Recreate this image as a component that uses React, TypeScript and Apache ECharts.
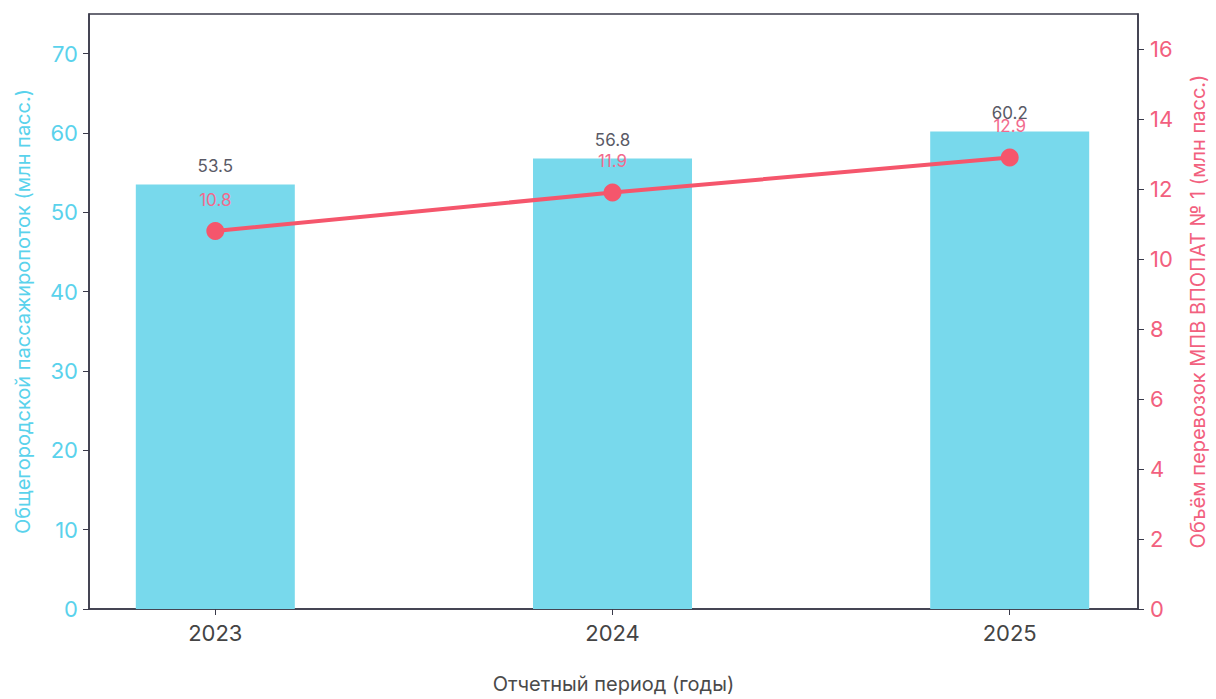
import React, { useEffect, useRef } from "react";
import * as echarts from "echarts";

const years = ["2023", "2024", "2025"];
const passengerFlow = [53.5, 56.8, 60.2];
const transportVolume = [10.8, 11.9, 12.9];
const leftTicks = [0, 10, 20, 30, 40, 50, 60, 70];
const rightTicks = [0, 2, 4, 6, 8, 10, 12, 14, 16];

const FONT = "Inter, 'Noto Sans', sans-serif";

export default function App() {
  const ref = useRef<HTMLDivElement>(null);
  useEffect(() => {
    if (!ref.current) return;
    const chart = echarts.init(ref.current, null, { renderer: "svg" });
    const xIdx = years.map((_, i) => i);
    chart.setOption({
      animation: false,
      textStyle: { fontFamily: FONT },
      grid: {
        left: 89,
        right: 68,
        top: 14,
        bottom: 87,
        show: true,
        borderColor: "#3a3a4a",
        borderWidth: 1.5,
        backgroundColor: "transparent",
      },
      xAxis: {
        type: "value",
        min: -0.318,
        max: 2.323,
        name: "Отчетный период (годы)",
        nameLocation: "middle",
        nameGap: 65,
        nameTextStyle: { fontSize: 20, color: "#4a4a4a", fontFamily: FONT },
        axisLine: { show: true, onZero: false, lineStyle: { color: "#3a3a4a", width: 1.5 } },
        axisTick: { show: true, length: 6, customValues: xIdx, lineStyle: { color: "#3a3a4a" } },
        axisLabel: {
          customValues: xIdx,
          margin: 13,
          fontSize: 22,
          color: "#444",
          fontFamily: FONT,
          formatter: (v: number) => years[Math.round(v)] ?? "",
        },
        splitLine: { show: false },
      },
      yAxis: [
        {
          type: "value",
          min: 0,
          max: 75,
          position: "left",
          name: "Общегородской пассажиропоток (млн пасс.)",
          nameLocation: "middle",
          nameGap: 56,
          nameRotate: 90,
          nameTextStyle: { fontSize: 20, color: "#5ad2ec", fontFamily: FONT },
          axisLine: { show: true, onZero: false, lineStyle: { color: "#3a3a4a", width: 1.5 } },
          axisTick: { show: true, length: 6, customValues: leftTicks, lineStyle: { color: "#3a3a4a" } },
          axisLabel: { customValues: leftTicks, margin: 11, fontSize: 22, color: "#5ad2ec", fontFamily: FONT },
          splitLine: { show: false },
        },
        {
          type: "value",
          min: 0,
          max: 17,
          position: "right",
          name: "Объём перевозок МПВ ВПОПАТ № 1 (млн пасс.)",
          nameLocation: "middle",
          nameGap: 50,
          nameRotate: 90,
          nameTextStyle: { fontSize: 20, color: "#f2607e", fontFamily: FONT },
          axisLine: { show: true, onZero: false, lineStyle: { color: "#3a3a4a", width: 1.5 } },
          axisTick: { show: true, length: 6, customValues: rightTicks, lineStyle: { color: "#3a3a4a" } },
          axisLabel: { customValues: rightTicks, margin: 12, fontSize: 22, color: "#f2607e", fontFamily: FONT },
          splitLine: { show: false },
        },
      ],
      series: [
        {
          type: "bar",
          yAxisIndex: 0,
          barWidth: 159,
          data: passengerFlow.map((v, i) => [i, v]),
          itemStyle: { color: "#78d9ec" },
          label: {
            show: true,
            position: "top",
            distance: 10,
            fontSize: 17,
            color: "#5a5a66",
            fontFamily: FONT,
            formatter: (p: any) => String(p.value[1]),
          },
        },
        {
          type: "line",
          yAxisIndex: 1,
          data: transportVolume.map((v, i) => [i, v]),
          symbol: "circle",
          symbolSize: 18,
          lineStyle: { color: "#f5566c", width: 4 },
          itemStyle: { color: "#f5566c" },
          label: {
            show: true,
            position: "top",
            distance: 14,
            fontSize: 17,
            color: "#f26b8e",
            fontFamily: FONT,
            formatter: (p: any) => String(p.value[1]),
          },
          z: 5,
        },
      ],
    });
    return () => chart.dispose();
  }, []);
  return (
    <div
      ref={ref}
      style={{ position: "absolute", left: 0, top: 0, width: 1216, height: 699, background: "#fff" }}
    />
  );
}
